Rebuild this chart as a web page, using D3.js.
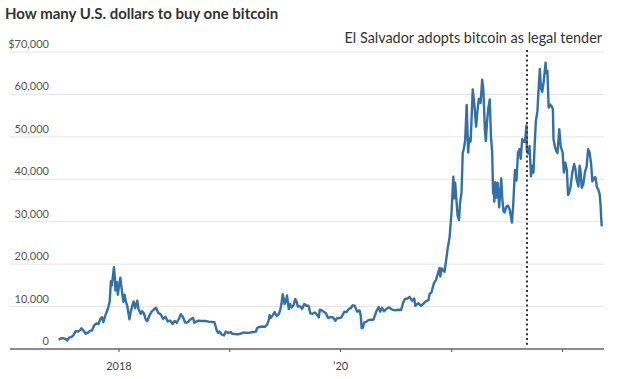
<!DOCTYPE html>
<html>
<head>
<meta charset="utf-8">
<script src="https://cdn.jsdelivr.net/npm/d3@7"></script>
<style>
  html, body { margin: 0; padding: 0; background: #fff; }
  svg { display: block; }
  text { font-family: Lato, "Open Sans", sans-serif; }
</style>
</head>
<body>
<svg id="chart" width="625" height="379"></svg>
<script>
const title = "How many U.S. dollars to buy one bitcoin";
const annotationText = "El Salvador adopts bitcoin as legal tender";
const annotationDate = "2021-09-07";
const yTicks = [0, 10000, 20000, 30000, 40000, 50000, 60000, 70000];
const xTickDates = ["2018-01-01", "2019-01-01", "2020-01-01", "2021-01-01", "2022-01-01"];
const xTickLabels = ["2018", "", "\u201920", "", ""];

const dates = [
"2017-06-18","2017-06-25","2017-07-02","2017-07-09","2017-07-16","2017-07-23","2017-07-30","2017-08-06","2017-08-13","2017-08-20","2017-08-27","2017-09-01","2017-09-08","2017-09-15","2017-09-22","2017-09-29","2017-10-06","2017-10-13","2017-10-20","2017-10-27","2017-11-03","2017-11-08","2017-11-12","2017-11-19","2017-11-26","2017-11-29","2017-12-03","2017-12-07","2017-12-10","2017-12-13","2017-12-17","2017-12-20","2017-12-22","2017-12-26","2017-12-30",
"2018-01-03","2018-01-07","2018-01-12","2018-01-17","2018-01-21","2018-01-25","2018-01-30","2018-02-02","2018-02-06","2018-02-10","2018-02-15","2018-02-20","2018-02-25","2018-03-04","2018-03-08","2018-03-15","2018-03-20","2018-03-25","2018-04-01","2018-04-06","2018-04-13","2018-04-20","2018-04-27","2018-05-05","2018-05-12","2018-05-20","2018-05-28","2018-06-05","2018-06-12","2018-06-20","2018-06-28","2018-07-05","2018-07-12","2018-07-20","2018-07-25","2018-08-01","2018-08-08","2018-08-14","2018-08-20","2018-08-28","2018-09-04","2018-09-08","2018-09-15","2018-09-22","2018-10-01","2018-10-15","2018-10-25","2018-11-05","2018-11-13","2018-11-16","2018-11-20","2018-11-25","2018-11-30","2018-12-07","2018-12-15","2018-12-20","2018-12-28",
"2019-01-06","2019-01-10","2019-01-20","2019-01-30","2019-02-08","2019-02-18","2019-02-24","2019-03-05","2019-03-20","2019-03-30","2019-04-02","2019-04-10","2019-04-20","2019-04-28","2019-05-05","2019-05-11","2019-05-14","2019-05-17","2019-05-25","2019-05-30","2019-06-06","2019-06-13","2019-06-18","2019-06-22","2019-06-26","2019-06-29","2019-07-02","2019-07-07","2019-07-10","2019-07-16","2019-07-20","2019-07-26","2019-08-01","2019-08-06","2019-08-10","2019-08-15","2019-08-22","2019-08-29","2019-09-05","2019-09-12","2019-09-19","2019-09-25","2019-10-02","2019-10-10","2019-10-18","2019-10-23","2019-10-26","2019-11-01","2019-11-08","2019-11-15","2019-11-22","2019-11-30","2019-12-08","2019-12-17","2019-12-20","2019-12-28",
"2020-01-04","2020-01-10","2020-01-15","2020-01-22","2020-01-30","2020-02-05","2020-02-12","2020-02-18","2020-02-26","2020-03-05","2020-03-09","2020-03-12","2020-03-16","2020-03-20","2020-03-27","2020-04-03","2020-04-10","2020-04-20","2020-04-29","2020-05-07","2020-05-12","2020-05-18","2020-05-25","2020-06-02","2020-06-10","2020-06-20","2020-07-01","2020-07-10","2020-07-20","2020-07-27","2020-08-02","2020-08-10","2020-08-17","2020-08-25","2020-09-01","2020-09-05","2020-09-15","2020-09-23","2020-10-01","2020-10-10","2020-10-18","2020-10-22","2020-10-28","2020-11-05","2020-11-12","2020-11-18","2020-11-24","2020-11-26","2020-12-01","2020-12-10","2020-12-16","2020-12-20","2020-12-27",
"2021-01-02","2021-01-08","2021-01-11","2021-01-14","2021-01-22","2021-01-27","2021-01-30","2021-02-04","2021-02-08","2021-02-12","2021-02-16","2021-02-21","2021-02-26","2021-03-01","2021-03-06","2021-03-10","2021-03-13","2021-03-18","2021-03-24","2021-03-28","2021-04-02","2021-04-08","2021-04-13","2021-04-17","2021-04-22","2021-04-25","2021-04-29","2021-05-03","2021-05-08","2021-05-12","2021-05-16","2021-05-19","2021-05-21","2021-05-23","2021-05-26","2021-05-30","2021-06-03","2021-06-08","2021-06-15","2021-06-18","2021-06-22","2021-06-26","2021-07-01","2021-07-07","2021-07-13","2021-07-20","2021-07-24","2021-07-30","2021-08-04","2021-08-09","2021-08-14","2021-08-18","2021-08-23","2021-08-28","2021-09-01","2021-09-06","2021-09-07","2021-09-12","2021-09-16","2021-09-21","2021-09-26","2021-09-29","2021-10-03","2021-10-07","2021-10-12","2021-10-16","2021-10-20","2021-10-24","2021-10-28","2021-11-02","2021-11-08","2021-11-10","2021-11-14","2021-11-18","2021-11-23","2021-11-28","2021-12-02","2021-12-04","2021-12-09","2021-12-13","2021-12-17","2021-12-23","2021-12-28",
"2022-01-03","2022-01-07","2022-01-12","2022-01-17","2022-01-21","2022-01-24","2022-01-29","2022-02-04","2022-02-10","2022-02-14","2022-02-18","2022-02-24","2022-02-28","2022-03-03","2022-03-07","2022-03-12","2022-03-18","2022-03-23","2022-03-28","2022-04-02","2022-04-07","2022-04-11","2022-04-17","2022-04-21","2022-04-26","2022-04-30","2022-05-05","2022-05-08","2022-05-10","2022-05-12"
];
const prices = [
2200,2500,2550,2450,2000,2750,2800,3300,4200,4100,4400,4900,4300,3600,3800,4300,4400,5600,6000,5900,7200,7500,6300,8000,9300,10000,11200,16000,15000,16800,19300,16800,13800,15800,12800,
15100,16800,13800,11100,12800,11300,10100,8800,7000,8600,10100,11200,9600,11400,9400,8300,8900,8500,6900,6600,7900,8800,9300,9700,8500,8200,7100,7600,6500,6700,5900,6600,6200,7300,8200,7600,6300,6200,6500,7100,7300,6200,6500,6700,6600,6600,6450,6400,6300,5600,4500,3800,4100,3400,3200,4100,3800,
4000,3600,3550,3450,3650,3900,3800,3800,4000,4100,4900,5200,5300,5200,5700,6800,8000,7300,8000,8700,7800,8200,9300,10700,12900,11900,10600,11400,12600,9400,10600,9800,10400,11800,11300,10000,10100,9500,10600,10200,10200,8400,8300,8600,7950,7450,9250,9150,8800,8500,7300,7500,7500,6650,7150,7300,
7400,8100,8800,8700,9500,9600,10300,10200,8800,9100,7900,4900,5000,6200,6400,6800,6900,6900,8800,9900,8800,9700,8900,9500,9800,9300,9100,9250,9200,11000,11800,11900,12300,11400,11900,10200,10800,10200,10600,11300,11500,13000,13300,15500,16300,17800,19100,17100,19000,18200,21300,23500,26500,
32200,40600,35500,39200,31500,30400,34300,36900,46200,47300,49200,57500,46300,49600,48900,55900,61200,57800,52400,55800,59000,58000,63500,61000,51700,49000,53500,56600,58800,50000,46400,36700,37300,34700,39300,35700,39200,33400,40200,35800,32500,32200,33500,33800,32800,29800,33600,42200,39700,46300,47100,44800,49500,48900,48800,52700,46800,46100,47800,40700,43200,41600,48200,53800,56000,61500,66000,61300,60600,63200,67500,65000,65500,56900,57600,57200,56500,49400,47600,46700,46200,51800,47600,
46400,41600,43900,42200,36300,36700,38100,41600,43600,42500,40000,38300,43200,42000,38000,38800,41800,42900,47100,46300,43500,39500,40400,40500,38100,37700,36500,34000,31000,28900
];

const parse = d3.timeParse("%Y-%m-%d");
const data = dates.map((d, i) => ({ date: parse(d), value: prices[i] }));

const svg = d3.select("#chart");
const left = 10, right = 604;

const x = d3.scaleTime()
  .domain([parse("2018-01-01"), parse("2022-01-01")])
  .range([118.5, 562]);
const y = d3.scaleLinear().domain([0, 70000]).range([349, 52]);

// title
svg.append("text")
  .attr("x", 5).attr("y", 19)
  .attr("font-size", 15).attr("font-weight", 700)
  .attr("fill", "#333")
  .text(title);

// gridlines
svg.append("g").selectAll("line").data(yTicks.filter(d => d > 0)).join("line")
  .attr("x1", left).attr("x2", right)
  .attr("y1", d => y(d)).attr("y2", d => y(d))
  .attr("stroke", "#e6e6e6").attr("stroke-width", 1);

// y labels
const fmt = d3.format(",");
svg.append("g").selectAll("text").data(yTicks).join("text")
  .attr("x", 49).attr("y", d => y(d) - 4)
  .attr("text-anchor", "end")
  .attr("font-size", 11).attr("fill", "#555")
  .text(d => d === 70000 ? "$" + fmt(d) : fmt(d));

// x axis
const xAxis = d3.axisBottom(x)
  .tickValues(xTickDates.map(parse))
  .tickSize(3)
  .tickFormat((d, i) => xTickLabels[i]);
const gx = svg.append("g").attr("transform", `translate(0,${y(0)})`).call(xAxis);
gx.select(".domain").remove();
gx.selectAll(".tick line").attr("stroke", "#555").attr("stroke-width", 1);
gx.selectAll(".tick text").attr("font-size", 11).attr("fill", "#444")
  .attr("font-family", "Lato, sans-serif").attr("dy", "1.35em");
gx.insert("line", ":first-child")
  .attr("x1", left).attr("x2", right).attr("y1", 0).attr("y2", 0)
  .attr("stroke", "#8c8c8c").attr("stroke-width", 2);

// price line
const line = d3.line().x(d => x(d.date)).y(d => y(d.value)).curve(d3.curveLinear);
svg.append("path").datum(data)
  .attr("d", line)
  .attr("fill", "none")
  .attr("stroke", "#3270aa")
  .attr("stroke-width", 2.4)
  .attr("stroke-linejoin", "round");

// annotation
const ax = Math.round(x(parse(annotationDate)));
svg.append("line")
  .attr("x1", ax).attr("x2", ax).attr("y1", 50).attr("y2", 346)
  .attr("stroke", "#333").attr("stroke-width", 2).attr("stroke-dasharray", "2,2.8");
svg.append("text")
  .attr("x", 602).attr("y", 43)
  .attr("text-anchor", "end")
  .attr("font-size", 14.4).attr("fill", "#333")
  .text(annotationText);
</script>
</body>
</html>
